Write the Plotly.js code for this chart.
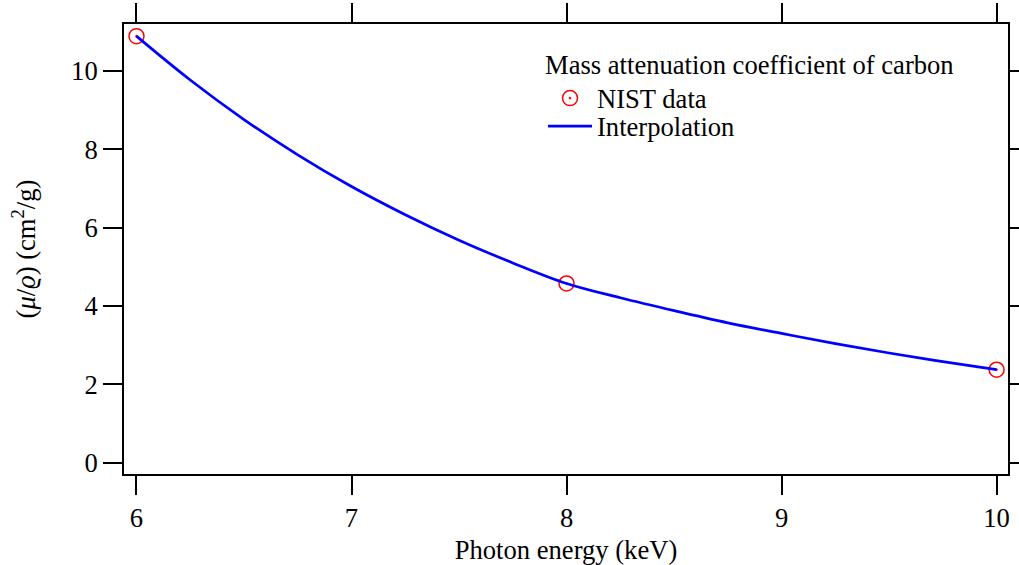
<!DOCTYPE html>
<html>
<head>
<meta charset="utf-8">
<script src="https://cdn.plot.ly/plotly-3.0.1.min.js"></script>
<style>html,body{margin:0;padding:0;background:#fff;}#chart{width:1019px;height:565px;}</style>
</head>
<body>
<div id="chart"></div>
<script>
// NIST data points (photon energy keV, mass attenuation cm^2/g)
const nistEnergy = [6, 8, 10];
const nistMu = [10.89, 4.576, 2.373];

// Interpolation curve values
const interpEnergy = [6, 6.25, 6.5, 6.75, 7, 7.25, 7.5, 7.75, 8, 8.25, 8.5, 8.75, 9, 9.25, 9.5, 9.75, 10];
const interpMu = [10.89, 9.77, 8.76, 7.86, 7.05, 6.33, 5.68, 5.10, 4.576, 4.21, 3.88, 3.57, 3.30, 3.04, 2.80, 2.58, 2.373];

const xTickVals = [6, 7, 8, 9, 10];
const yTickVals = [0, 2, 4, 6, 8, 10];

const FONT = 'Liberation Serif, Times New Roman, serif';
const FS = 26.6;

const traces = [
  {
    x: nistEnergy, y: nistMu, type: 'scatter', mode: 'markers', name: 'NIST data', legend: 'legend',
    marker: {symbol: 'circle-open-dot', size: 15, color: '#ff0000', line: {color: '#ff0000', width: 1.5}}
  },
  {
    x: interpEnergy, y: interpMu, type: 'scatter', mode: 'lines', name: 'Interpolation', legend: 'legend2',
    line: {color: '#0000ff', width: 2.7, shape: 'spline'}
  }
];

const axisCommon = {
  showgrid: false, zeroline: false, showline: true, linecolor: '#000', linewidth: 2,
  mirror: 'ticks', ticks: 'outside', ticklen: 19, tickwidth: 2, tickcolor: '#000',
  tickfont: {family: FONT, size: FS, color: '#000'}
};

const legendCommon = {
  xanchor: 'left', yanchor: 'top', x: 0.474,
  bgcolor: 'rgba(0,0,0,0)', borderwidth: 0,
  font: {family: FONT, size: FS, color: '#000'}, itemwidth: 44
};

const layout = {
  width: 1019, height: 565,
  margin: {l: 124, r: 11, t: 24, b: 91},
  paper_bgcolor: '#fff', plot_bgcolor: '#fff',
  font: {family: FONT, size: FS, color: '#000'},
  showlegend: true,
  legend: Object.assign({}, legendCommon, {
    y: 0.965,
    title: {text: 'Mass attenuation coefficient of carbon', font: {family: FONT, size: FS}}
  }),
  legend2: Object.assign({}, legendCommon, {y: 0.826}),
  xaxis: Object.assign({}, axisCommon, {
    range: [5.942, 10.053], tickvals: xTickVals, ticktext: xTickVals.map(String),
    title: {text: 'Photon energy (keV)', font: {family: FONT, size: FS}, standoff: 10}
  }),
  yaxis: Object.assign({}, axisCommon, {
    range: [-0.29, 11.2], tickvals: yTickVals, ticktext: yTickVals.map(String),
    title: {text: '(<i>μ</i>/<i>ϱ</i>) (cm<sup>2</sup>/g)', font: {family: FONT, size: FS}, standoff: 28}
  })
};

Plotly.newPlot('chart', traces, layout, {displayModeBar: false, staticPlot: true});
</script>
</body>
</html>
